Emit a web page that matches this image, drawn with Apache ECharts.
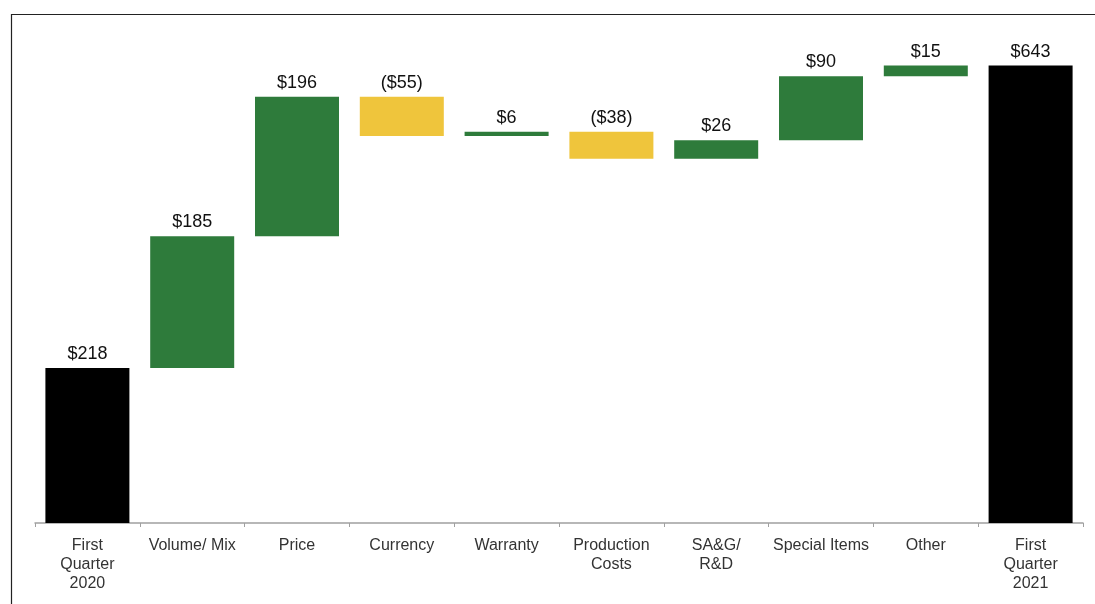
<!DOCTYPE html>
<html>
<head>
<meta charset="utf-8">
<script src="https://cdn.jsdelivr.net/npm/echarts@6/dist/echarts.min.js"></script>
<style>
  html, body { margin: 0; padding: 0; background: #fff; }
  #chart { width: 1095px; height: 604px; }
</style>
</head>
<body>
<div id="chart"></div>
<script>
var categories = ['First\nQuarter\n2020', 'Volume/ Mix', 'Price', 'Currency', 'Warranty',
    'Production\nCosts', 'SA&G/\nR&D', 'Special Items', 'Other', 'First\nQuarter\n2021']
// deltas; first and last are totals
var changes = [218, 185, 196, -55, 6, -38, 26, 90, 15, 643]
var isTotal = [true, false, false, false, false, false, false, false, false, true]
var labels = ['$218', '$185', '$196', '($55)', '$6', '($38)', '$26', '$90', '$15', '$643']

var GREEN = '#2e7b3b'
var YELLOW = '#efc53c'
var BLACK = '#000000'

// build the waterfall: invisible base + visible step
var baseData = []
var stepData = []
var running = 0
changes.forEach(function(v, i) {
    if (isTotal[i]) {
        baseData.push(0)
        stepData.push({ value: v, itemStyle: { color: BLACK } })
        running = v
    } else {
        var next = running + v
        baseData.push(Math.min(running, next))
        stepData.push({ value: Math.abs(v), itemStyle: { color: v < 0 ? YELLOW : GREEN } })
        running = next
    }
})

var chart = echarts.init(document.getElementById('chart'))

chart.setOption({
    animation: false,
    grid: { left: 35, right: 12, top: 25, bottom: 81 },
    xAxis: {
        type: 'category',
        data: categories,
        axisLine: { lineStyle: { color: '#a0a0a0', width: 1.5 } },
        axisTick: { show: true, length: 4, lineStyle: { color: '#a0a0a0' } },
        axisLabel: {
            interval: 0,
            margin: 13,
            color: '#333',
            fontFamily: 'Liberation Sans, Arial, sans-serif',
            fontSize: 16,
            lineHeight: 19
        }
    },
    yAxis: {
        type: 'value',
        min: 0,
        max: 700,
        show: false
    },
    graphic: [{
        type: 'polyline',
        shape: { points: [[11.5, 604], [11.5, 14.5], [1095, 14.5]] },
        style: { stroke: '#222', lineWidth: 1.2, fill: null }
    }],
    series: [{
        type: 'bar',
        stack: 'w',
        barWidth: 84,
        itemStyle: { color: 'transparent' },
        emphasis: { disabled: true },
        data: baseData
    }, {
        type: 'bar',
        stack: 'w',
        barWidth: 84,
        data: stepData,
        label: {
            show: true,
            position: 'top',
            distance: 5,
            color: '#111',
            fontFamily: 'Liberation Sans, Arial, sans-serif',
            fontSize: 18,
            formatter: function(p) { return labels[p.dataIndex] }
        }
    }]
})
</script>
</body>
</html>
